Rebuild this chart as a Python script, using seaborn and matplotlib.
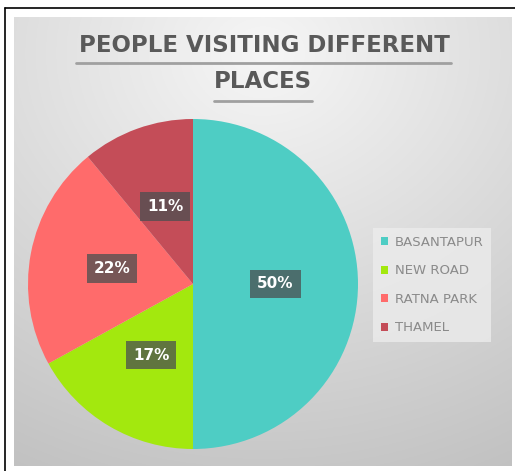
import numpy as np
import matplotlib
matplotlib.use("Agg")
import matplotlib.pyplot as plt
import matplotlib.patches as mpatches
from matplotlib.lines import Line2D
import seaborn as sns

# ---- data ----
places = ["BASANTAPUR", "NEW ROAD", "RATNA PARK", "THAMEL"]
shares = [50, 17, 22, 11]
colors = ["#4ECDC4", "#A3E80E", "#FF6B6B", "#C44D58"]
title_lines = ["PEOPLE VISITING DIFFERENT", "PLACES"]

sns.set_style("white")
plt.rcParams['font.family'] = ['DejaVu Sans']
palette = sns.color_palette(colors)

W, H = 515, 471
fig = plt.figure(figsize=(W / 100, H / 100), dpi=100)
fig.patch.set_facecolor("white")

def fx(px):
    return px / W

def fy(py):
    return 1 - py / H

# outer black border (top & left visible)
fig.add_artist(Line2D([fx(5), 1], [fy(8), fy(8)], color="black", lw=1.2, transform=fig.transFigure))
fig.add_artist(Line2D([fx(5), fx(5)], [fy(8), 0], color="black", lw=1.2, transform=fig.transFigure))

# gradient background of chart area
x0, y0, x1, y1 = 14, 17, 512, 466
bg = fig.add_axes([fx(x0), fy(y1), fx(x1 - x0), (y1 - y0) / H])
gx, gy = np.meshgrid(np.linspace(0, 1, 300), np.linspace(0, 1, 300))
d = np.sqrt(((gx - 0.5) * 0.9) ** 2 + ((gy - 0.08) * 0.95) ** 2)
d = np.clip(d, 0, 1)
val = 0.965 - 0.21 * d
img = np.dstack([val, val, val])
bg.imshow(img, extent=[0, 1, 1, 0], aspect="auto")
bg.set_xlim(0, 1)
bg.set_ylim(1, 0)
bg.axis("off")

# pie
cx, cy, r = 193, 284, 165
ax = fig.add_axes([fx(cx - r), fy(cy + r), 2 * r / W, 2 * r / H])
ax.set_facecolor("none")
wedges, texts, autotexts = ax.pie(
    shares, colors=palette, startangle=90, counterclock=False,
    autopct="%d%%", pctdistance=0.5, radius=1,
    wedgeprops=dict(linewidth=0),
    textprops=dict(color="white", fontsize=11, fontweight="bold"),
)
for t in autotexts:
    t.set_bbox(dict(boxstyle="square,pad=0.45", facecolor="#4a4f50", alpha=0.75, edgecolor="none"))
ax.set_xlim(-1, 1)
ax.set_ylim(-1, 1)
ax.set_aspect("equal")
ax.axis("off")

# title with underline
fig.text(fx(264), fy(46), title_lines[0], ha="center", va="center",
         fontsize=16.5, fontweight="bold", color="#595959")
fig.text(fx(263), fy(82), title_lines[1], ha="center", va="center",
         fontsize=16.5, fontweight="bold", color="#595959")
fig.add_artist(Line2D([fx(76), fx(451)], [fy(63), fy(63)], color="#a0a0a0", lw=2, transform=fig.transFigure))
fig.add_artist(Line2D([fx(214), fx(312)], [fy(101), fy(101)], color="#a0a0a0", lw=2, transform=fig.transFigure))

# legend
handles = [mpatches.Patch(facecolor=c, edgecolor="none") for c in palette]
leg = fig.legend(handles, places, loc="upper left",
                 bbox_to_anchor=(fx(373), fy(228)), bbox_transform=fig.transFigure,
                 frameon=True, fontsize=9.5, handlelength=0.55, handleheight=0.55,
                 handletextpad=0.5, labelspacing=1.17, borderpad=0.6, borderaxespad=0)
leg.get_frame().set_facecolor("#ececec")
leg.get_frame().set_edgecolor("none")
leg.get_frame().set_alpha(0.8)
leg.get_frame().set_boxstyle("square", pad=0)
for txt in leg.get_texts():
    txt.set_color("#8a8a8a")

fig.savefig("out.png", dpi=100)
